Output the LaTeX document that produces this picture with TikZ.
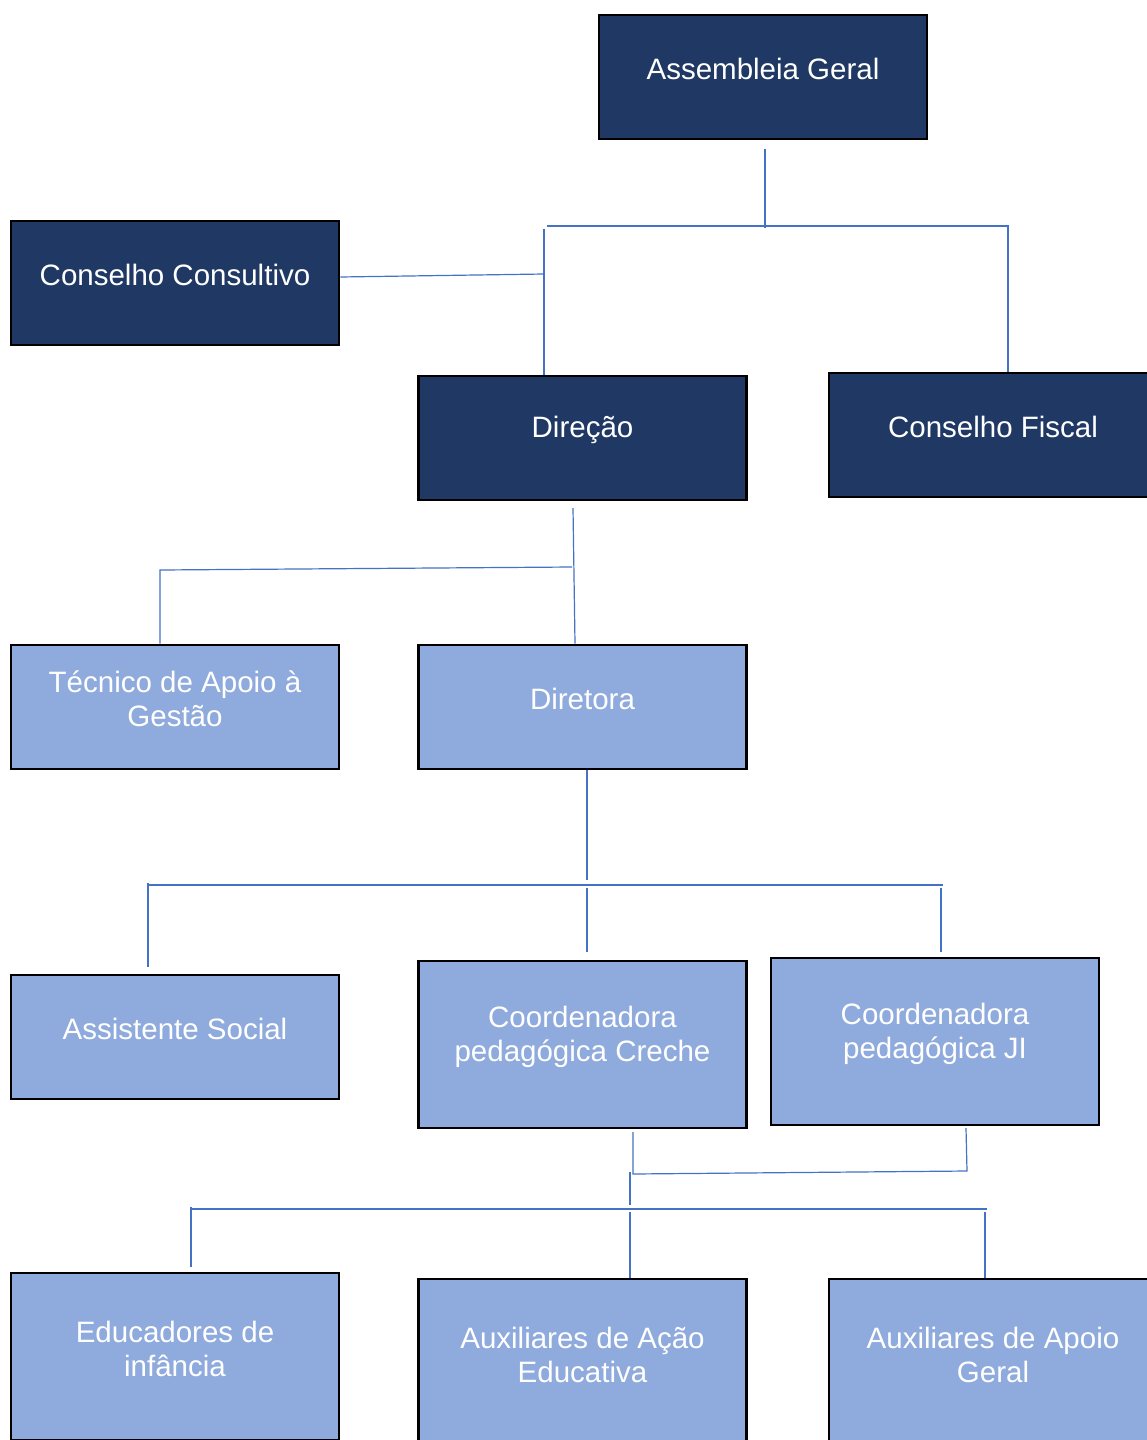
\documentclass[tikz,border=0pt]{standalone}
\usepackage{fontspec}
\setmainfont{Liberation Sans}
\usetikzlibrary{calc}
\definecolor{navy}{RGB}{32,56,100}
\definecolor{lblue}{RGB}{143,170,220}
\definecolor{lineblue}{RGB}{68,114,196}
\begin{document}
\begin{tikzpicture}[x=1pt,y=-1pt,
  box/.style={draw=black,line width=2.8pt,minimum width=328pt,minimum height=124pt,inner sep=0pt},
  tall/.style={minimum height=167pt},
  dark/.style={box,fill=navy},
  light/.style={box,fill=lblue},
  txt/.style={text=white,align=center,font=\fontsize{29.5}{34}\selectfont,yshift=8pt},
  conn/.style={draw=lineblue,line width=1.2pt}]
\useasboundingbox[fill=white] (0,0) rectangle (1146,1440);

% boxes
\node[dark] (ag) at (763,77) {};
\node[txt] (agt) at (ag.center) {Assembleia Geral};
\node[dark] (cc) at (175,283) {};
\node[txt] (cct) at (cc.center) {Conselho Consultivo};
\node[dark] (dir) at (582.5,438) {};
\node[txt] (dirt) at (dir.center) {Direção};
\node[dark] (cf) at (993,435) {};
\node[txt] (cft) at (cf.center) {Conselho Fiscal};

\node[light] (tec) at (175,707) {};
\node[txt] (tect) at (tec.center) {Técnico de Apoio à\\Gestão};
\node[light] (dra) at (582.5,707) {};
\node[txt] (drat) at (dra.center) {Diretora};

\node[light] (as) at (175,1037) {};
\node[txt] (ast) at (as.center) {Assistente Social};
\node[light,tall] (cpc) at (582.5,1044.5) {};
\node[txt] (cpct) at (cpc.center) {Coordenadora\\pedagógica Creche};
\node[light,tall] (cpj) at (935,1041.5) {};
\node[txt] (cpjt) at (cpj.center) {Coordenadora\\pedagógica JI};

\node[light,tall] (edu) at (175,1356.5) {};
\node[txt] (edut) at (edu.center) {Educadores de\\infância};
\node[light,tall] (aae) at (582.5,1362.5) {};
\node[txt] (aaet) at (aae.center) {Auxiliares de Ação\\Educativa};
\node[light,tall] (aag) at (993,1362.5) {};
\node[txt] (aagt) at (aag.center) {Auxiliares de Apoio\\Geral};

% junction coordinates
\coordinate (a1) at (765,149);
\coordinate (a2) at (765,228);
\coordinate (h1l) at (547,226);
\coordinate (h1r) at (1008,226);
\coordinate (v1t) at (544,229);
\coordinate (v1m) at (544,274);
\coordinate (d1) at (573,508);
\coordinate (d2) at (572,567);
\coordinate (d3) at (160,570);
\coordinate (r1) at (587,880);
\coordinate (h2l) at (148,885);
\coordinate (h2r) at (943,885);
\coordinate (b1) at (148,883);
\coordinate (b1e) at (148,967);
\coordinate (b2) at (587,888);
\coordinate (b2e) at (587,952);
\coordinate (b3) at (941,888);
\coordinate (b3e) at (941,952);
\coordinate (c1) at (633,1132);
\coordinate (c2) at (633,1174);
\coordinate (c3) at (967,1171);
\coordinate (c4) at (966,1128);
\coordinate (c5) at (630,1172);
\coordinate (c6) at (630,1205);
\coordinate (h3l) at (191,1209);
\coordinate (h3r) at (987,1209);
\coordinate (e1) at (191,1207);
\coordinate (e1e) at (191,1267);
\coordinate (e2) at (630,1212);
\coordinate (e3) at (985,1212);

% connectors
\draw[conn] (a1) -- (a2);
\draw[conn] (h1l) -- (h1r) -- (h1r |- cf.north);
\draw[conn] (v1t) -- (v1t |- dir.north);
\draw[conn] ($(cc.east)+(0,-6)$) -- (v1m);
\draw[conn] (d1) -- ($(dra.north)+(-7.5,0)$);
\draw[conn] (d2) -- (d3) -- (d3 |- tec.north);
\draw[conn] ($(dra.south)+(4.5,0)$) -- (r1);
\draw[conn] (h2l) -- (h2r);
\draw[conn] (b1) -- (b1e);
\draw[conn] (b2) -- (b2e);
\draw[conn] (b3) -- (b3e);
\draw[conn] (c1) -- (c2) -- (c3) -- (c4);
\draw[conn] (c5) -- (c6);
\draw[conn] (h3l) -- (h3r);
\draw[conn] (e1) -- (e1e);
\draw[conn] (e2) -- (e2 |- aae.north);
\draw[conn] (e3) -- (e3 |- aag.north);
\end{tikzpicture}
\end{document}
